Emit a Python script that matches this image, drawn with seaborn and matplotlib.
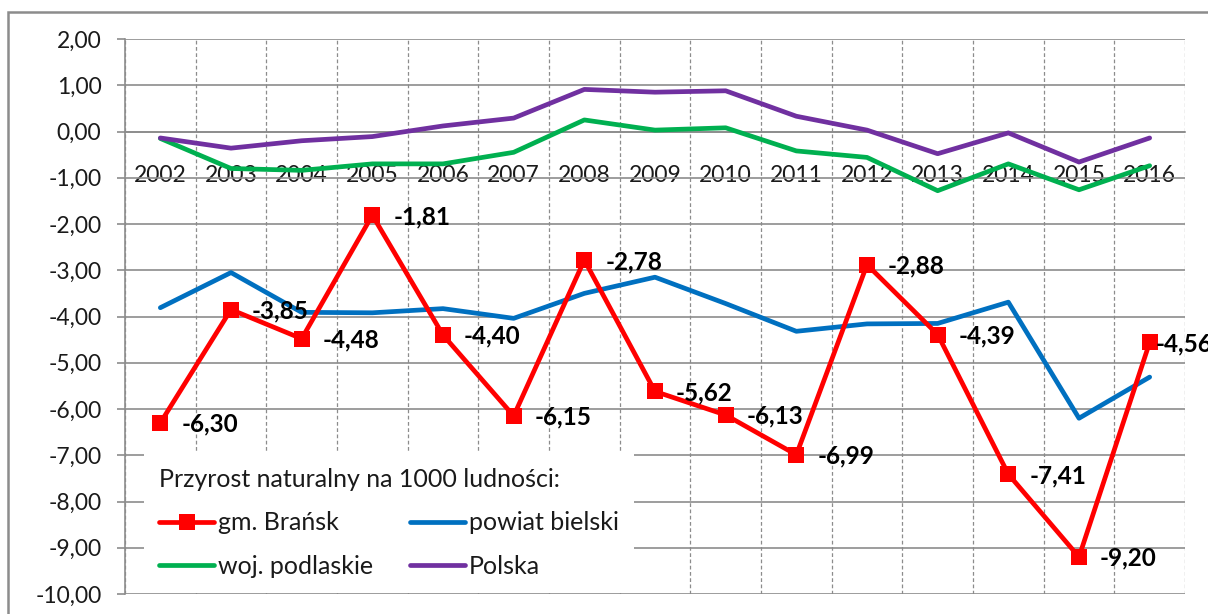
import matplotlib
matplotlib.use("Agg")
import matplotlib.pyplot as plt
import seaborn as sns
import pandas as pd
import numpy as np
from matplotlib.patches import Rectangle
from matplotlib.ticker import FixedLocator, FuncFormatter

years = list(range(2002, 2017))
gm_bransk = [-6.30, -3.85, -4.48, -1.81, -4.40, -6.15, -2.78, -5.62, -6.13, -6.99, -2.88, -4.39, -7.41, -9.20, -4.56]
powiat_bielski = [-3.81, -3.05, -3.91, -3.92, -3.83, -4.04, -3.50, -3.15, -3.72, -4.32, -4.16, -4.15, -3.69, -6.20, -5.31]
woj_podlaskie = [-0.15, -0.80, -0.84, -0.70, -0.70, -0.45, 0.25, 0.03, 0.08, -0.42, -0.56, -1.28, -0.70, -1.26, -0.74]
polska = [-0.14, -0.36, -0.20, -0.11, 0.12, 0.29, 0.91, 0.85, 0.88, 0.33, 0.03, -0.48, -0.03, -0.66, -0.14]

series_names = ["gm. Brańsk", "powiat bielski", "woj. podlaskie", "Polska"]
colors = {"gm. Brańsk": "#FF0000", "powiat bielski": "#0070C0",
          "woj. podlaskie": "#00B050", "Polska": "#7030A0"}
legend_title = "Przyrost naturalny na 1000 ludności:"

sns.set_style("white")
plt.rcParams['font.family'] = ['Lato', 'DejaVu Sans']

fig = plt.figure(figsize=(12.08, 6.14), dpi=100)
ax = fig.add_axes([125/1208, 1-594/614, 1060/1208, 555/614])

grid_col = "#8C8C8C"
text_col = "#1A1A1A"

data = {"gm. Brańsk": gm_bransk, "powiat bielski": powiat_bielski,
        "woj. podlaskie": woj_podlaskie, "Polska": polska}

for name in series_names:
    df = pd.DataFrame({"year": years, "value": data[name]})
    if name == "gm. Brańsk":
        sns.lineplot(data=df, x="year", y="value", ax=ax, color=colors[name],
                     lw=3.4, marker="s", markersize=11, markeredgewidth=0,
                     label=name, zorder=5)
    else:
        sns.lineplot(data=df, x="year", y="value", ax=ax, color=colors[name],
                     lw=3.4, label=name, zorder=4)

ax.set_xlim(years[0]-0.5, years[-1]+0.5)
ax.set_ylim(-10, 2)
ax.set_xlabel("")
ax.set_ylabel("")

# y axis
ax.yaxis.set_major_locator(FixedLocator(np.arange(-10, 2.01, 1)))
ax.yaxis.set_major_formatter(FuncFormatter(lambda v, p: f"{v:.2f}".replace(".", ",").replace("-0,00", "0,00")))
ax.tick_params(axis="y", which="major", length=6, width=1.2, color=grid_col,
               labelsize=16.5, labelcolor=text_col, pad=11, direction="out", left=True)
ax.grid(axis="y", which="major", color=grid_col, lw=1.2, ls="-", zorder=0)

# x axis: categories, crossing at 0
ax.xaxis.set_major_locator(FixedLocator(years))
ax.xaxis.set_major_formatter(FuncFormatter(lambda v, p: f"{int(round(v))}"))
ax.xaxis.set_minor_locator(FixedLocator(np.arange(years[0]-0.5, years[-1]+0.51, 1)))
ax.tick_params(axis="x", which="both", length=0, labelsize=16.5, labelcolor=text_col, pad=24)
ax.grid(axis="x", which="minor", color=grid_col, lw=0.9, ls=(0, (3, 2)), zorder=0)
ax.grid(axis="x", which="major", visible=False)

for s in ["top", "right"]:
    ax.spines[s].set_visible(False)
ax.spines["bottom"].set_position(("data", 0))
ax.spines["bottom"].set_color(grid_col)
ax.spines["bottom"].set_linewidth(1.2)
ax.spines["left"].set_color(grid_col)
ax.spines["left"].set_linewidth(1.2)

# data labels for gm. Brańsk
for i, (yr, v) in enumerate(zip(years, gm_bransk)):
    dx = 15 if i < len(years) - 1 else 4
    ax.annotate(f"{v:.2f}".replace(".", ","), (yr, v), xytext=(dx, -1),
                textcoords="offset points", ha="left", va="center",
                fontsize=17.5, fontweight="bold", color="black", zorder=6,
                annotation_clip=False)

# legend (row-wise order: Brańsk, powiat / woj., Polska)
h, l = ax.get_legend_handles_labels()
hd = dict(zip(l, h))
order = ["gm. Brańsk", "woj. podlaskie", "powiat bielski", "Polska"]
leg = ax.legend([hd[k] for k in order], order,
                loc="lower left", bbox_to_anchor=(19/1060, 1/555, 490/1060, 0.25),
                mode="expand", ncol=2, title=legend_title, alignment="left",
                fontsize=18, title_fontproperties={"size": 18},
                frameon=True, facecolor="white", edgecolor="none", framealpha=1,
                fancybox=False, handlelength=2.2, handletextpad=0.15,
                columnspacing=0.5, labelspacing=0.82, borderpad=0.6,
                borderaxespad=0)
leg.set_zorder(10)
for t in leg.get_texts():
    t.set_color(text_col)
leg.get_title().set_color(text_col)

# outer chart border
fig.patches.append(Rectangle((8/1208, -0.1), 1.2, 1-12/614+0.1, transform=fig.transFigure,
                             fill=False, edgecolor="#8C8C8C", lw=1.8, zorder=0))

fig.savefig("out.png", dpi=100)
